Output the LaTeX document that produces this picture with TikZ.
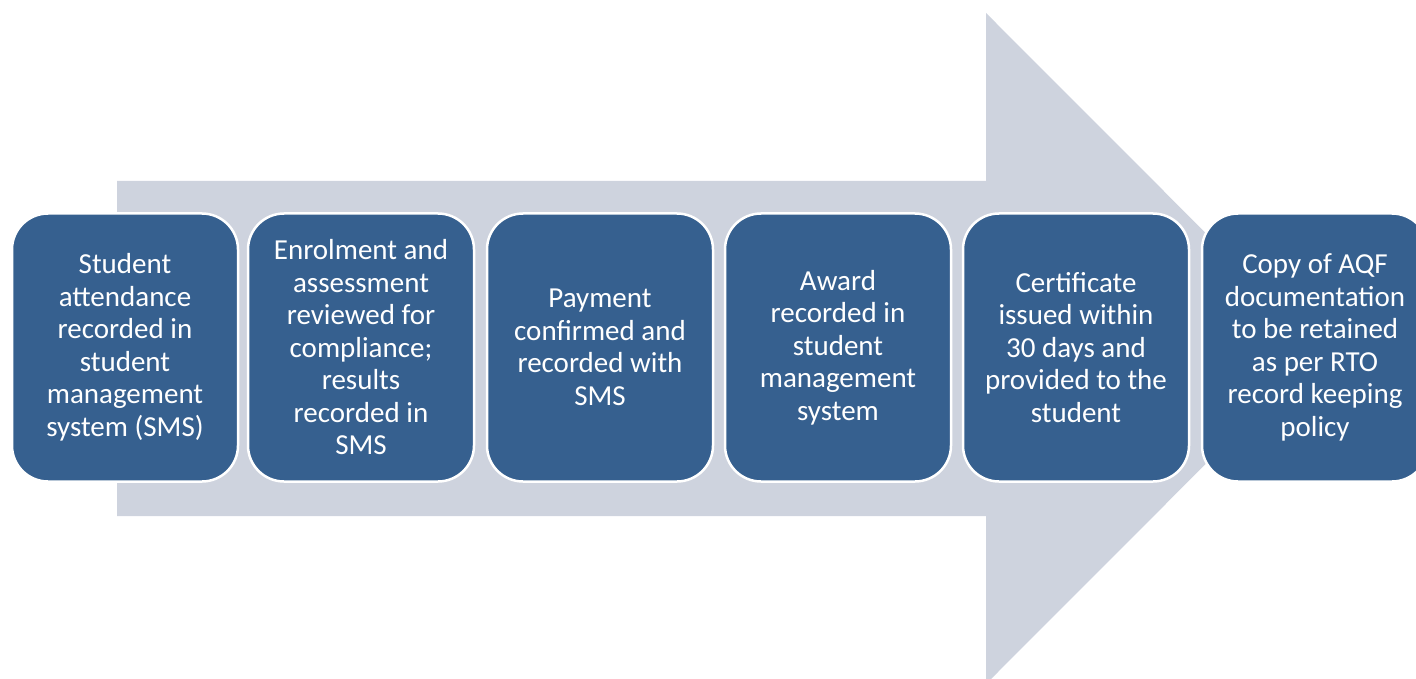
\documentclass[tikz,border=0pt]{standalone}
\usepackage{fontspec}
\setmainfont{Carlito}
\definecolor{boxblue}{HTML}{36608F}
\definecolor{arrowgrey}{HTML}{CED3DE}
\tikzset{
  stepbox/.style={draw=white, line width=2.5pt, fill=boxblue, rounded corners=36pt,
    minimum width=226pt, minimum height=268pt, text=white, align=center,
    font=\fontsize{29}{32.5}\selectfont, inner sep=0pt}
}
\begin{document}
\begin{tikzpicture}[x=1pt,y=-1pt]
\useasboundingbox (0,0) rectangle (1416,679);
\clip (0,0) rectangle (1416,679);
\fill[arrowgrey] (117,181) -- (986,181) -- (986,13) -- (1321,348.5) -- (986,684) -- (986,516) -- (117,516) -- cycle;
\node[stepbox] (b1) at (125,347.5) {Student\\attendance\\recorded in\\student\\management\\system (SMS)};
\node[stepbox] (b2) at (361,347.5) {Enrolment and\\assessment\\reviewed for\\compliance;\\results\\recorded in\\SMS};
\node[stepbox] (b3) at (600,347.5) {Payment\\confirmed and\\recorded with\\SMS};
\node[stepbox] (b4) at (838,347.5) {Award\\recorded in\\student\\management\\system};
\node[stepbox] (b5) at (1076,347.5) {Certificate\\issued within\\30 days and\\provided to the\\student};
\node[stepbox] (b6) at (1315,347.5) {Copy of AQF\\documentation\\to be retained\\as per RTO\\record keeping\\policy};
\end{tikzpicture}
\end{document}
